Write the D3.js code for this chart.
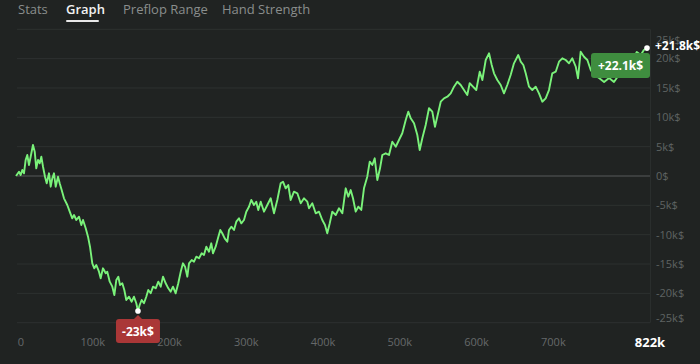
<!DOCTYPE html>
<html>
<head>
<meta charset="utf-8">
<script src="https://cdn.jsdelivr.net/npm/d3@7"></script>
<style>
  html, body { margin: 0; padding: 0; background: #202322; }
  body { width: 700px; height: 364px; overflow: hidden; font-family: "Open Sans", "Noto Sans", sans-serif; }
</style>
</head>
<body>
<div id="chart"></div>
<script>
// tabs above the graph
const tabs = ['Stats', 'Graph', 'Preflop Range', 'Hand Strength'];
const activeTab = 'Graph';

// hands played (thousands) and winnings (k$)
const hands = [0, 3.9, 6.1, 8.2, 10.4, 12.6, 14.7, 16.9, 19.1, 22.1, 24.4, 26.4, 28.7, 30.9, 33.0, 35.2, 37.8, 40.0, 43.0, 45.2,
  47.3, 49.5, 51.7, 54.7, 56.9, 59.5, 62.5, 66.8, 70.0, 73.3, 75.6, 78.6, 82.1, 85.1, 87.3, 90.8, 93.8, 96.4, 99.4, 102.0,
  104.6, 108.1, 110.3, 113.3, 116.9, 118.9, 122.1, 125.5, 128.1, 130.7, 133.3, 135.5, 138.5, 141.1, 143.7, 147.2, 150.7, 153.7, 156.7, 158.9,
  161.1, 163.7, 166.7, 169.7, 172.3, 175.5, 178.5, 182.0, 185.4, 188.5, 191.5, 195.0, 198.4, 201.5, 204.5, 208.0, 211.4, 214.6, 217.5, 220.2,
  223.2, 225.4, 228.9, 231.9, 234.9, 238.4, 241.9, 244.9, 247.9, 251.4, 254.4, 256.6, 260.1, 263.1, 266.1, 268.7, 271.9, 275.3, 277.5, 280.5,
  284.0, 287.0, 290.5, 293.5, 297.0, 300.0, 303.5, 306.5, 310.0, 313.0, 315.6, 318.8, 323.1, 327.4, 331.8, 336.1, 340.4, 344.8, 347.8, 351.3,
  354.7, 357.8, 362.1, 366.5, 370.9, 375.2, 379.5, 381.7, 386.0, 390.4, 394.7, 399.0, 402.5, 405.5, 408.7, 412.0, 416.5, 420.8, 425.1, 429.5,
  432.9, 436.0, 439.0, 442.5, 445.9, 449.8, 453.3, 457.6, 460.8, 464.2, 467.3, 470.7, 474.2, 477.2, 481.6, 485.9, 490.2, 494.7, 498.9, 503.2,
  507.7, 511.0, 514.2, 518.5, 522.8, 525.9, 529.3, 533.7, 538.0, 542.3, 545.8, 548.8, 553.3, 557.6, 561.9, 566.3, 570.6, 574.9, 579.3, 583.6,
  587.9, 591.0, 595.3, 599.6, 604.1, 607.5, 611.9, 616.2, 619.7, 622.7, 627.0, 631.4, 635.7, 640.0, 644.4, 648.7, 654.3, 657.5, 660.9, 664.0,
  668.3, 672.6, 677.0, 681.3, 685.6, 690.0, 694.3, 698.6, 703.1, 707.4, 711.7, 716.1, 720.4, 724.7, 729.2, 732.1, 735.6, 739.9, 744.3, 748.7,
  753.0, 759.5, 766.1, 772.6, 779.0, 785.3, 791.8, 798.3, 804.8, 808.7, 813.9, 817.9, 822];
const winnings = [0, 0.73, 0.17, 1.02, 0.46, 2.73, 3.58, 1.87, 3.29, 5.28, 4.14, 1.31, 2.73, 2.16, 3.29, 1.58, -0.12, -1.24, 0.46, -1.82,
  -0.39, 0.46, -1.82, -0.12, -1.24, -2.39, -3.80, -4.94, -6.08, -7.21, -6.65, -7.50, -6.94, -8.35, -7.50, -8.91, -10.34, -12.05, -14.88, -15.73,
  -15.17, -16.31, -17.43, -15.73, -16.58, -16.31, -18.01, -18.86, -20.28, -17.72, -17.16, -18.57, -18.28, -19.43, -21.13, -20.57, -21.42, -20.57, -21.69, -23.0,
  -21.98, -21.13, -21.69, -20.57, -19.43, -19.99, -18.86, -19.14, -18.01, -18.86, -17.16, -18.28, -19.14, -19.72, -18.86, -19.99, -18.28, -16.31, -14.88, -15.45,
  -17.16, -14.88, -14.31, -14.60, -13.75, -14.02, -13.17, -13.46, -12.05, -12.90, -11.47, -13.17, -12.05, -10.62, -9.20, -9.76, -10.62, -11.20, -9.20, -8.64,
  -9.20, -7.79, -7.21, -8.06, -7.50, -6.08, -5.23, -4.09, -4.94, -4.38, -5.79, -4.38, -6.08, -4.94, -3.80, -6.36, -4.09, -1.24, -0.97, -2.10,
  -1.53, -4.09, -2.68, -2.95, -4.65, -3.80, -4.38, -5.50, -4.65, -6.36, -6.08, -7.50, -8.35, -9.76, -8.06, -6.08, -6.65, -5.50, -6.36, -2.10,
  -3.53, -2.39, -3.80, -6.08, -5.23, -5.79, -2.10, -0.12, 2.44, 1.87, 3.02, -0.68, 1.31, 3.58, 3.87, 3.58, 5.84, 4.99, 6.13, 7.28,
  9.54, 10.96, 9.83, 8.98, 6.99, 4.43, 6.42, 8.69, 11.54, 10.96, 8.40, 10.10, 12.66, 13.24, 13.51, 14.09, 15.22, 16.07, 15.51, 14.65,
  13.80, 15.80, 15.22, 14.65, 17.77, 16.36, 19.77, 20.91, 18.91, 17.50, 16.36, 15.51, 14.09, 15.51, 17.21, 19.20, 20.62, 19.48, 18.91, 17.50,
  15.22, 14.65, 15.22, 14.09, 12.66, 13.24, 14.65, 17.50, 17.77, 19.48, 20.06, 19.77, 19.20, 20.06, 18.62, 16.65, 21.18, 20.33, 19.77, 18.06,
  17.21, 16.70, 16.02, 16.70, 16.02, 17.21, 18.40, 19.43, 20.11, 21.13, 20.62, 21.47, 21.8];

const xTicks = [0, 100, 200, 300, 400, 500, 600, 700];
const yTicks = [25, 20, 15, 10, 5, 0, -5, -10, -15, -20, -25];
const totalHands = 822;
const lastValue = 21.8;
const minValue = -23;
const minHands = 158.9;
const boxLabel = '+22.1k$';

const W = 700, H = 364;
const svg = d3.select('#chart').append('svg')
    .attr('width', W)
    .attr('height', H)
    .style('display', 'block');

const x = d3.scaleLinear().domain([0, totalHands]).range([16, 647]);
const y = d3.scaleLinear().domain([-25, 25]).range([322.7, 29.3]);

// tabs
const tabX = [18, 66, 123, 222];
const tabG = svg.append('g');
tabs.forEach((t, i) => {
    tabG.append('text')
        .attr('x', tabX[i])
        .attr('y', 14)
        .style('font-size', '13px')
        .style('font-weight', t === activeTab ? 600 : 400)
        .style('fill', t === activeTab ? '#f2f2f2' : '#8a8e8d')
        .text(t);
});
tabG.append('rect')
    .attr('x', 66).attr('y', 20)
    .attr('width', 33).attr('height', 2)
    .attr('rx', 1)
    .attr('fill', '#e8e8e8');

// gridlines
svg.append('g')
    .selectAll('line')
    .data(yTicks)
    .join('line')
    .attr('x1', 17)
    .attr('x2', 650)
    .attr('y1', d => y(d))
    .attr('y2', d => y(d))
    .attr('stroke', d => d === 0 ? '#454948' : '#2d3130')
    .attr('stroke-width', d => d === 0 ? 1.5 : 1);

svg.append('line')
    .attr('x1', 650.5).attr('x2', 650.5)
    .attr('y1', y(25)).attr('y2', y(-25))
    .attr('stroke', '#2a2e2d');

// y labels on the right
svg.append('g')
    .selectAll('text')
    .data(yTicks)
    .join('text')
    .attr('x', 656)
    .attr('y', d => Math.min(Math.max(y(d), 40), 318))
    .attr('dy', '0.35em')
    .style('font-size', '11px')
    .style('fill', '#5f6362')
    .text(d => d === 0 ? '0$' : d + 'k$');

// x labels
svg.append('g')
    .selectAll('text')
    .data(xTicks)
    .join('text')
    .attr('x', d => d === 0 ? 21 : x(d))
    .attr('y', 346)
    .attr('text-anchor', 'middle')
    .style('font-size', '11px')
    .style('fill', '#66696a')
    .text(d => d === 0 ? '0' : d + 'k');

svg.append('text')
    .attr('x', 650)
    .attr('y', 347)
    .attr('text-anchor', 'middle')
    .style('font-size', '13px')
    .style('font-weight', 700)
    .style('fill', '#ffffff')
    .text(totalHands + 'k');

// the line
const points = hands.map((h, i) => [h, winnings[i]]);
svg.append('path')
    .datum(points)
    .attr('fill', 'none')
    .attr('stroke', '#7af27a')
    .attr('stroke-width', 1.9)
    .attr('stroke-linejoin', 'round')
    .attr('d', d3.line().x(d => x(d[0])).y(d => y(d[1])));

// green label box
const gb = svg.append('g').attr('transform', 'translate(591,53)');
gb.append('rect')
    .attr('width', 59).attr('height', 25)
    .attr('rx', 3)
    .attr('fill', '#3f8d3f');
gb.append('text')
    .attr('x', 29.5).attr('y', 17)
    .attr('text-anchor', 'middle')
    .style('font-size', '12px')
    .style('font-weight', 700)
    .style('fill', '#ffffff')
    .text(boxLabel);

// last value
svg.append('circle')
    .attr('cx', x(totalHands)).attr('cy', y(lastValue))
    .attr('r', 2.8)
    .attr('fill', '#ffffff');
svg.append('text')
    .attr('x', 655)
    .attr('y', y(lastValue) + 2)
    .style('font-size', '12px')
    .style('font-weight', 700)
    .style('fill', '#ffffff')
    .text('+' + lastValue + 'k$');

// min label
const mx = x(minHands);
const rb = svg.append('g');
rb.append('path')
    .attr('d', `M${mx - 4},${y(minValue) + 8} L${mx},${y(minValue) + 4} L${mx + 4},${y(minValue) + 8} Z`)
    .attr('fill', '#aa3737');
rb.append('rect')
    .attr('x', mx - 22).attr('y', y(minValue) + 8)
    .attr('width', 44).attr('height', 24)
    .attr('rx', 3)
    .attr('fill', '#aa3737');
rb.append('text')
    .attr('x', mx).attr('y', y(minValue) + 25)
    .attr('text-anchor', 'middle')
    .style('font-size', '12px')
    .style('font-weight', 700)
    .style('fill', '#ffffff')
    .text(minValue + 'k$');
svg.append('circle')
    .attr('cx', mx).attr('cy', y(minValue))
    .attr('r', 2.8)
    .attr('fill', '#ffffff');
</script>
</body>
</html>
